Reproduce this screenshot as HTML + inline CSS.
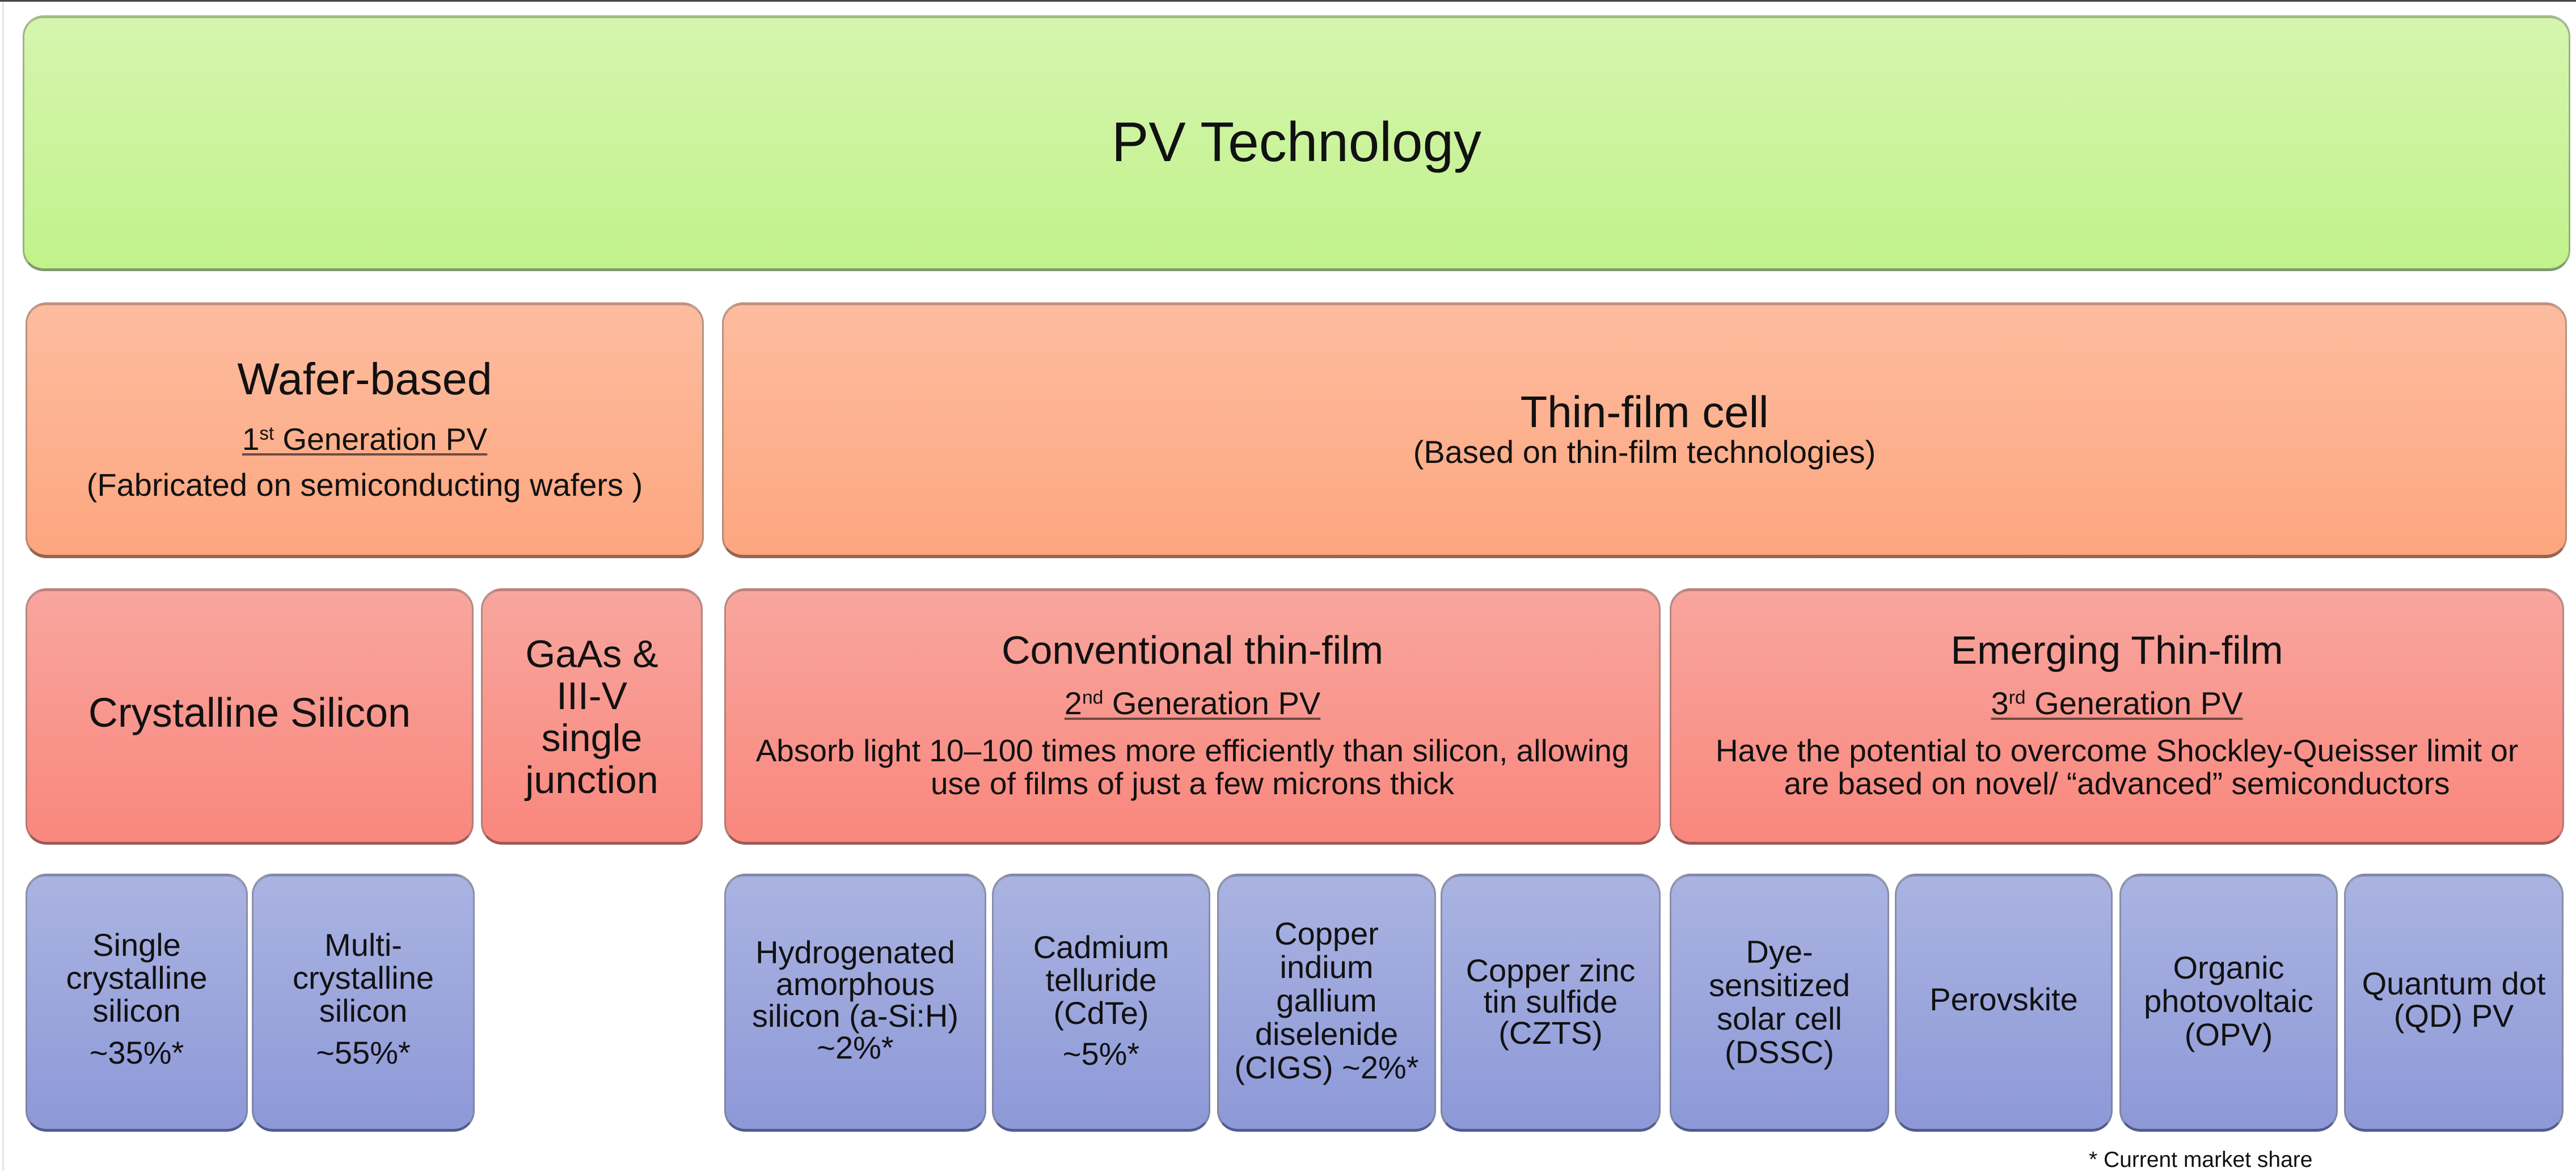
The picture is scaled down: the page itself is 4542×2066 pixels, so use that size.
<!DOCTYPE html>
<html>
<head>
<meta charset="utf-8">
<style>
  html,body{margin:0;padding:0;}
  body{width:4542px;height:2064px;position:relative;overflow:hidden;background:#fff;
       font-family:"Liberation Sans", Arial, sans-serif;color:#111;}
  .topline{position:absolute;left:0;top:0;width:4542px;height:3px;background:#454545;}
  .leftline{position:absolute;left:4px;top:3px;width:3px;height:2061px;background:#e4e4e4;}
  .box{position:absolute;box-sizing:border-box;border-radius:37px;
       border:3px solid rgba(110,110,110,0.5);border-top:5px solid rgba(120,120,120,0.45);}
  .g{background:linear-gradient(#d5f5ae,#c1f28b);border-bottom:5px solid #7f9a6d;}
  .o{background:linear-gradient(#fdbc9f,#fda67f);border-bottom:6px solid #98654f;}
  .r{background:linear-gradient(#f8a69e,#f9877d);border-bottom:5px solid #9c5a55;}
  .b{background:linear-gradient(#aab3e1,#8d99d8);border-bottom:5px solid #525b8c;}
  .t{position:absolute;text-align:center;white-space:nowrap;}
  .u{text-decoration:underline;text-decoration-thickness:4px;text-underline-offset:6px;text-decoration-color:#6e4a40;}
  sup{font-size:0.6em;vertical-align:0.55em;line-height:0;}
  .blk{position:absolute;text-align:center;white-space:nowrap;font-size:56px;}
</style>
</head>
<body>
<div class="topline"></div>
<div class="leftline"></div>

<!-- Row 1 -->
<div class="box g" style="left:40px;top:27px;width:4492px;height:451px;"></div>
<div class="t" style="left:40px;width:4492px;top:201px;font-size:98px;line-height:98px;">PV Technology</div>

<!-- Row 2 -->
<div class="box o" style="left:45px;top:533px;width:1196px;height:451px;"></div>
<div class="t" style="left:45px;width:1196px;top:628px;font-size:79px;line-height:79px;">Wafer-based</div>
<div class="t" style="left:45px;width:1196px;top:747px;font-size:55px;line-height:55px;"><span class="u">1<sup>st</sup> Generation PV</span></div>
<div class="t" style="left:45px;width:1196px;top:827px;font-size:56px;line-height:56px;">(Fabricated on semiconducting wafers )</div>

<div class="box o" style="left:1273px;top:533px;width:3253px;height:451px;"></div>
<div class="t" style="left:1273px;width:3253px;top:687px;font-size:78px;line-height:78px;">Thin-film cell</div>
<div class="t" style="left:1273px;width:3253px;top:769px;font-size:56px;line-height:56px;">(Based on thin-film technologies)</div>

<!-- Row 3 -->
<div class="box r" style="left:45px;top:1037px;width:790px;height:452px;"></div>
<div class="t" style="left:45px;width:790px;top:1221px;font-size:72px;line-height:72px;">Crystalline Silicon</div>

<div class="box r" style="left:848px;top:1037px;width:391px;height:452px;"></div>
<div class="t" style="left:848px;width:391px;top:1116px;font-size:68px;line-height:74px;">GaAs &amp;<br>III-V<br>single<br>junction</div>

<div class="box r" style="left:1277px;top:1037px;width:1651px;height:452px;"></div>
<div class="t" style="left:1277px;width:1651px;top:1111px;font-size:70px;line-height:70px;">Conventional thin-film</div>
<div class="t" style="left:1277px;width:1651px;top:1212px;font-size:56px;line-height:56px;"><span class="u">2<sup>nd</sup> Generation PV</span></div>
<div class="t" style="left:1277px;width:1651px;top:1294px;font-size:55px;line-height:58px;">Absorb light 10–100 times more efficiently than silicon, allowing<br>use of films of just a few microns thick</div>

<div class="box r" style="left:2944px;top:1037px;width:1577px;height:452px;"></div>
<div class="t" style="left:2944px;width:1577px;top:1111px;font-size:70px;line-height:70px;">Emerging Thin-film</div>
<div class="t" style="left:2944px;width:1577px;top:1212px;font-size:56px;line-height:56px;"><span class="u">3<sup>rd</sup> Generation PV</span></div>
<div class="t" style="left:2944px;width:1577px;top:1294px;font-size:55px;line-height:58px;">Have the potential to overcome Shockley-Queisser limit or<br>are based on novel/ “advanced” semiconductors</div>

<!-- Row 4 -->
<div class="box b" style="left:45px;top:1540px;width:392px;height:455px;"></div>
<div class="blk" style="left:45px;width:392px;top:1637px;line-height:58px;">Single<br>crystalline<br>silicon<div style="margin-top:16px;">~35%*</div></div>

<div class="box b" style="left:444px;top:1540px;width:393px;height:455px;"></div>
<div class="blk" style="left:444px;width:393px;top:1637px;line-height:58px;">Multi-<br>crystalline<br>silicon<div style="margin-top:16px;">~55%*</div></div>

<div class="box b" style="left:1277px;top:1540px;width:462px;height:455px;"></div>
<div class="blk" style="left:1277px;width:462px;top:1651px;line-height:56px;">Hydrogenated<br>amorphous<br>silicon (a-Si:H)<br>~2%*</div>

<div class="box b" style="left:1749px;top:1540px;width:385px;height:455px;"></div>
<div class="blk" style="left:1749px;width:385px;top:1641px;line-height:58px;">Cadmium<br>telluride<br>(CdTe)<div style="margin-top:14px;">~5%*</div></div>

<div class="box b" style="left:2146px;top:1540px;width:386px;height:455px;"></div>
<div class="blk" style="left:2146px;width:386px;top:1616px;line-height:59px;">Copper<br>indium<br>gallium<br>diselenide<br>(CIGS) ~2%*</div>

<div class="box b" style="left:2540px;top:1540px;width:388px;height:455px;"></div>
<div class="blk" style="left:2540px;width:388px;top:1683px;line-height:55px;">Copper zinc<br>tin sulfide<br>(CZTS)</div>

<div class="box b" style="left:2944px;top:1540px;width:387px;height:455px;"></div>
<div class="blk" style="left:2944px;width:387px;top:1648px;line-height:59px;">Dye-<br>sensitized<br>solar cell<br>(DSSC)</div>

<div class="box b" style="left:3341px;top:1540px;width:384px;height:455px;"></div>
<div class="blk" style="left:3341px;width:384px;top:1733px;line-height:58px;">Perovskite</div>

<div class="box b" style="left:3737px;top:1540px;width:385px;height:455px;"></div>
<div class="blk" style="left:3737px;width:385px;top:1676px;line-height:59px;">Organic<br>photovoltaic<br>(OPV)</div>

<div class="box b" style="left:4133px;top:1540px;width:387px;height:455px;"></div>
<div class="blk" style="left:4133px;width:387px;top:1705px;line-height:57px;">Quantum dot<br>(QD) PV</div>

<!-- Footnote -->
<div class="t" style="left:3683px;top:2025px;font-size:39px;line-height:39px;text-align:left;">* Current market share</div>
</body>
</html>
